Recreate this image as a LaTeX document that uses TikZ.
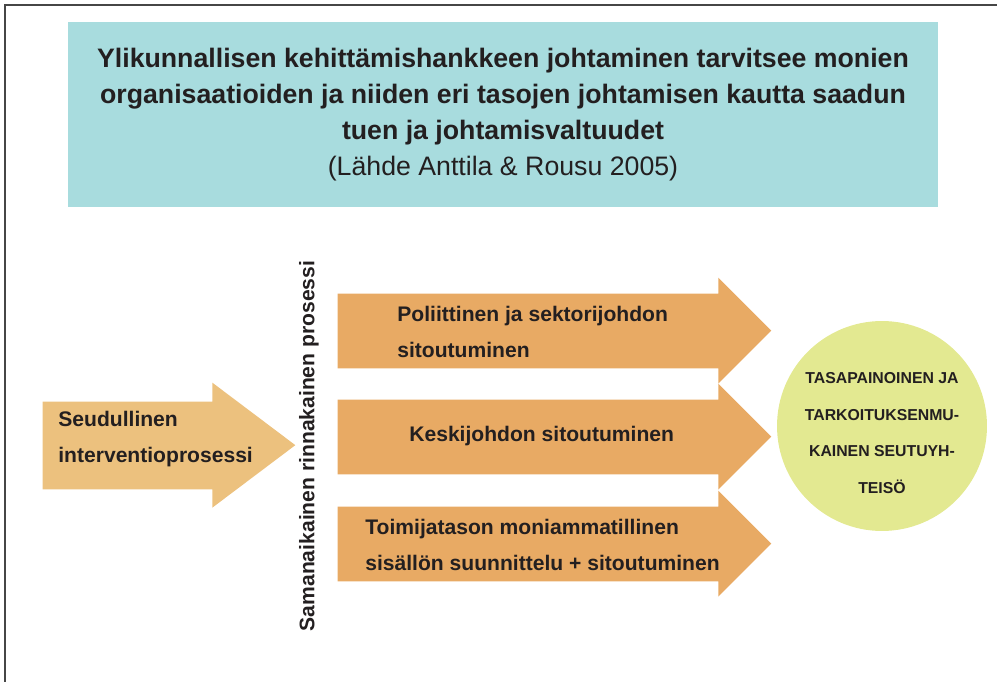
\documentclass[tikz,border=0pt]{standalone}
\usepackage{fontspec}
\setmainfont{Liberation Sans}
\usetikzlibrary{positioning}

\definecolor{headcyan}{RGB}{168,220,222}
\definecolor{armorange}{RGB}{232,170,100}
\definecolor{startorange}{RGB}{236,193,126}
\definecolor{goalgreen}{RGB}{227,233,145}
\definecolor{framegray}{RGB}{70,70,70}
\definecolor{inkblack}{RGB}{35,31,32}

\begin{document}
\begin{tikzpicture}[
  x=0.02cm, y=-0.02cm,
  header/.style={rectangle, fill=headcyan, minimum width=17.4cm, minimum height=3.7cm, align=center, text=inkblack, font=\bfseries\fontsize{15.2}{20.4}\selectfont},
  shaft/.style={rectangle, inner sep=0pt, minimum width=7.6cm, minimum height=1.48cm},
  startshaft/.style={rectangle, inner sep=0pt, minimum width=3.38cm, minimum height=1.74cm},
  armtext/.style={anchor=west, inner sep=0pt, align=left, text=inkblack, font=\bfseries\fontsize{12}{20.5}\selectfont},
  goal/.style={circle, fill=goalgreen, minimum size=4.2cm, inner sep=0pt},
  goaltext/.style={inner sep=0pt, align=center, text=inkblack, font=\bfseries\fontsize{9}{20.8}\selectfont}
]
\useasboundingbox (0,0) rectangle (997,682);

% Frame
\draw[framegray, line width=0.9pt] (5,682) -- (5,5) -- (997,5);

% Header box
\node[header] (head) at (503,114.5) {Ylikunnallisen kehittämishankkeen johtaminen tarvitsee monien\\organisaatioiden ja niiden eri tasojen johtamisen kautta saadun\\tuen ja johtamisvaltuudet\\\mdseries (Lähde Anttila \& Rousu 2005)};

% Start arrow
\node[startshaft] (seut) at (127.5,445.5) {};
\fill[startorange] (seut.north west) -- (seut.north east) -- ++(0,-19) -- ++(83,62.5) -- ++(-83,62.5) -- (seut.south east) -- (seut.south west) -- cycle;
\node[armtext] (seuttext) at (58,439) {Seudullinen\\interventioprosessi};

% Vertical label
\node[rotate=90, inner sep=0pt, text=inkblack, font=\bfseries\fontsize{12}{14}\selectfont] (rinn) at (309,446) {Samanaikainen rinnakainen prosessi};

% Parallel arrows
\node[shaft] (pol) at (528,331) {};
\node[shaft] (kesk) at (528,437) {};
\node[shaft] (toim) at (528,544) {};
\foreach \n in {pol,kesk,toim}
  \fill[armorange] (\n.north west) -- (\n.north east) -- ++(0,-16) -- ++(53,53) -- ++(-53,53) -- (\n.south east) -- (\n.south west) -- cycle;

\node[armtext] (poltext) at (397,331.5) {Poliittinen ja sektorijohdon\\sitoutuminen};
\node[armtext] (kesktext) at (409,436) {Keskijohdon sitoutuminen};
\node[armtext] (toimtext) at (365,545) {Toimijatason moniammatillinen\\sisällön suunnittelu + sitoutuminen};

% Goal
\node[goal] (tavoite) at (882,426) {};
\node[goaltext] (tavoitetext) at (882,433) {TASAPAINOINEN JA\\TARKOITUKSENMU-\\KAINEN SEUTUYH-\\TEISÖ};

\end{tikzpicture}
\end{document}
